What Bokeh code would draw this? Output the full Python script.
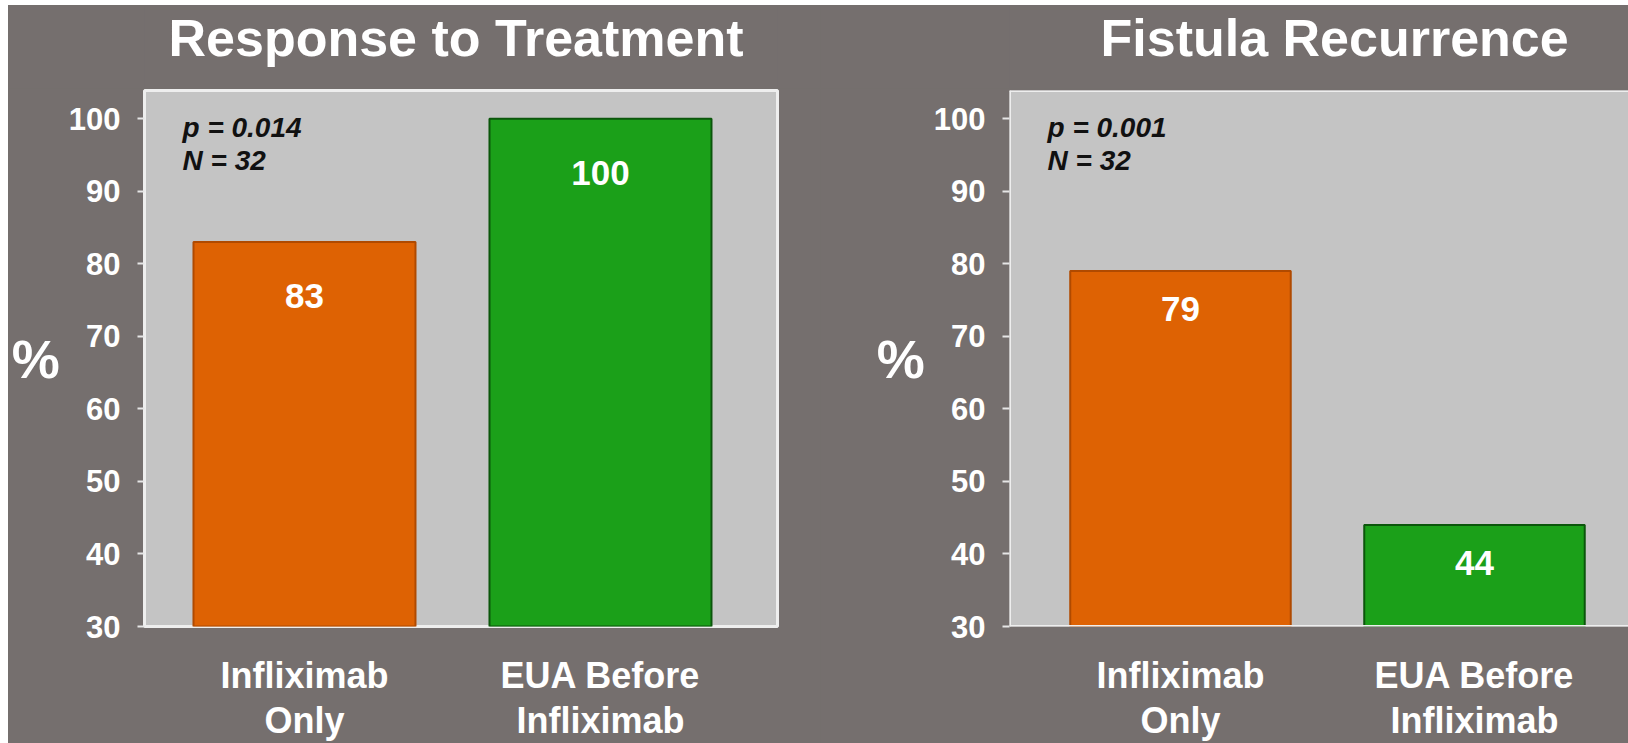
from bokeh.plotting import figure
from bokeh.layouts import row, column
from bokeh.models import Range1d, FixedTicker, Label, Span, ColumnDataSource
from bokeh.core.properties import value
from bokeh.embed import file_html
from bokeh.resources import INLINE

# ---- data -------------------------------------------------------------
categories = ["Infliximab\nOnly", "EUA Before\nInfliximab"]
response_pct = [83, 100]
recurrence_pct = [79, 44]
panel_titles = ["Response to Treatment", "Fistula Recurrence"]
p_values = ["p = 0.014", "p = 0.001"]
n_values = [32, 32]
y_ticks = [30, 40, 50, 60, 70, 80, 90, 100]

# ---- style ------------------------------------------------------------
FONT = "Liberation Sans"
BG = "#756F6E"
PANEL = "#C4C4C4"
FRAME_LINE = "#EEEEEE"
bar_colors = ["#DE6203", "#1BA019"]
bar_edges = ["#B04A00", "#0B560B"]
Y_MIN, Y_MAX = 30, 103.9
HEAD_H = 83          # heading strip above each chart
FIG_H = 655          # chart body
TOP, BOTTOM = 2, 106


def make_heading(title, width, border_left, border_right, text_x):
    # the heading's frame lines up with the chart frame below it,
    # so its x range is simply the frame width in pixels
    frame_w = width - border_left - border_right
    h = figure(width=width, height=HEAD_H, x_range=Range1d(0, frame_w),
               y_range=Range1d(0, HEAD_H), output_backend="svg",
               toolbar_location=None, min_border_left=border_left,
               min_border_right=border_right, min_border_top=0,
               min_border_bottom=0)
    h.axis.visible = False
    h.grid.visible = False
    h.outline_line_color = None
    h.background_fill_color = BG
    h.border_fill_color = BG
    h.add_layout(Label(x=text_x, y=51, text=title, text_font=FONT,
                       text_font_size="52px", text_font_style="bold",
                       text_color="white", text_align="left",
                       text_baseline="alphabetic"))
    return h


def make_panel(values, p_text, n, width, border_left, border_right,
               x_start, unit_px, label_offset, full_outline):
    frame_w = width - border_left - border_right
    x_end = x_start + frame_w / unit_px
    p = figure(width=width, height=FIG_H,
               x_range=Range1d(x_start, x_end), y_range=Range1d(Y_MIN, Y_MAX),
               output_backend="svg", toolbar_location=None,
               min_border_left=border_left, min_border_right=border_right,
               min_border_top=TOP, min_border_bottom=BOTTOM)
    p.background_fill_color = PANEL
    p.border_fill_color = BG
    p.grid.visible = False

    # bars and value labels
    xs = list(range(len(categories)))
    src = ColumnDataSource(dict(x=xs, top=values, color=bar_colors,
                                edge=bar_edges, label=[str(v) for v in values]))
    p.vbar(x="x", top="top", bottom=Y_MIN, width=0.75, fill_color="color",
           line_color="edge", line_width=2, source=src)
    p.text(x="x", y="top", text="label", text_align="center",
           text_baseline="middle", y_offset=label_offset, text_color="white",
           text_font=value(FONT), text_font_size="35px", text_font_style="bold",
           source=src)

    # y axis
    ya = p.yaxis[0]
    ya.ticker = FixedTicker(ticks=y_ticks)
    ya.axis_line_color = None
    ya.major_tick_line_color = "#E6E6E6"
    ya.major_tick_line_width = 2
    ya.major_tick_out = 7
    ya.major_tick_in = 0
    ya.minor_tick_line_color = None
    ya.major_label_standoff = 17
    ya.major_label_text_font = FONT
    ya.major_label_text_font_size = "31px"
    ya.major_label_text_font_style = "bold"
    ya.major_label_text_color = "white"
    ya.axis_label = "%"
    ya.axis_label_orientation = "horizontal"
    ya.axis_label_standoff = 6
    ya.axis_label_text_font = FONT
    ya.axis_label_text_font_size = "54px"
    ya.axis_label_text_font_style = "bold"
    ya.axis_label_text_color = "white"

    # x axis with category names
    xa = p.xaxis[0]
    xa.ticker = FixedTicker(ticks=xs)
    xa.major_label_overrides = {i: c for i, c in zip(xs, categories)}
    xa.axis_line_color = None
    xa.major_tick_line_color = None
    xa.minor_tick_line_color = None
    xa.major_label_standoff = 22
    xa.major_label_text_font = FONT
    xa.major_label_text_font_size = "36px"
    xa.major_label_text_font_style = "bold"
    xa.major_label_text_color = "white"
    xa.major_label_text_line_height = 1.1

    # white rim of the plotting box
    if full_outline:
        p.outline_line_color = FRAME_LINE
        p.outline_line_width = 3
    else:
        p.outline_line_color = None
        for loc in (Y_MIN, Y_MAX):
            p.add_layout(Span(location=loc, dimension="width",
                              line_color=FRAME_LINE, line_width=3))
        p.add_layout(Span(location=x_start, dimension="height",
                          line_color=FRAME_LINE, line_width=3))

    # statistics note
    tx = x_start + 38 / unit_px
    for txt, yv in ((p_text, 98.8), (f"N = {n}", 94.3)):
        p.add_layout(Label(x=tx, y=yv, text=txt, text_font=FONT,
                           text_font_size="28px", text_font_style="bold italic",
                           text_color="#111111", text_baseline="alphabetic"))
    return p


left = make_panel(response_pct, p_values[0], n_values[0],
                  width=812, border_left=136, border_right=43,
                  x_start=-0.5405, unit_px=296, label_offset=54,
                  full_outline=True)
right = make_panel(recurrence_pct, p_values[1], n_values[1],
                   width=808, border_left=189, border_right=0,
                   x_start=-0.5816, unit_px=294, label_offset=38,
                   full_outline=False)
left_head = make_heading(panel_titles[0], 812, 136, 43, 24)
right_head = make_heading(panel_titles[1], 808, 189, 0, 91)

layout = row(column(left_head, left), column(right_head, right),
             margin=(5, 0, 0, 8), styles={"background-color": BG})
open("out.html", "w").write(file_html(layout, INLINE))
